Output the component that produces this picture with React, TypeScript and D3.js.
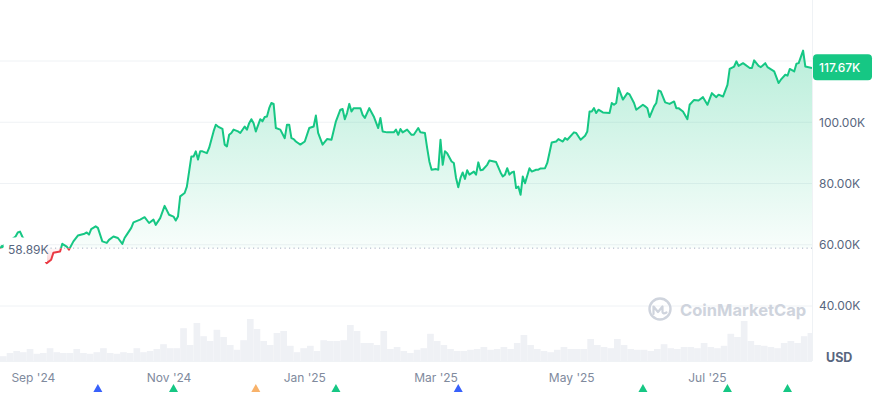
import { useEffect, useRef } from 'react'
import * as d3 from 'd3'

// price in thousands USD
const priceData: [string, number][] = [
  ['2024-08-17', 58.89], ['2024-08-24', 62.7], ['2024-08-25', 64.0], ['2024-08-26', 64.3], ['2024-08-27', 62.7],
  ['2024-08-30', 59.3], ['2024-09-02', 58.2], ['2024-09-05', 56.0], ['2024-09-07', 54.0], ['2024-09-09', 55.1],
  ['2024-09-10', 57.4], ['2024-09-13', 57.8], ['2024-09-14', 60.3], ['2024-09-16', 59.4], ['2024-09-17', 58.4],
  ['2024-09-19', 61.1], ['2024-09-21', 63.0], ['2024-09-24', 63.6], ['2024-09-25', 64.0], ['2024-09-26', 63.3],
  ['2024-09-27', 65.1], ['2024-09-29', 66.0], ['2024-09-30', 65.5], ['2024-10-02', 61.1], ['2024-10-04', 60.6],
  ['2024-10-05', 61.6], ['2024-10-07', 62.7], ['2024-10-09', 62.2], ['2024-10-11', 60.3], ['2024-10-12', 62.2],
  ['2024-10-13', 63.3], ['2024-10-15', 65.5], ['2024-10-16', 67.3], ['2024-10-19', 68.2], ['2024-10-21', 69.0],
  ['2024-10-23', 67.1], ['2024-10-25', 68.2], ['2024-10-26', 66.5], ['2024-10-28', 68.7], ['2024-10-30', 72.7],
  ['2024-11-01', 69.8], ['2024-11-03', 69.2], ['2024-11-04', 67.9], ['2024-11-05', 69.2], ['2024-11-06', 75.8],
  ['2024-11-08', 76.9], ['2024-11-09', 79.0], ['2024-11-11', 88.8], ['2024-11-12', 88.8], ['2024-11-13', 90.5],
  ['2024-11-14', 87.8], ['2024-11-15', 90.5], ['2024-11-16', 90.5], ['2024-11-18', 89.9], ['2024-11-19', 91.6],
  ['2024-11-20', 94.3], ['2024-11-21', 97.0], ['2024-11-22', 99.2], ['2024-11-23', 98.6], ['2024-11-25', 97.8],
  ['2024-11-26', 92.7], ['2024-11-27', 92.1], ['2024-11-28', 95.9], ['2024-11-29', 96.5], ['2024-11-30', 97.6],
  ['2024-12-02', 97.0], ['2024-12-03', 96.5], ['2024-12-05', 98.6], ['2024-12-06', 97.6], ['2024-12-07', 99.7],
  ['2024-12-08', 101.0], ['2024-12-09', 99.7], ['2024-12-10', 97.0], ['2024-12-12', 101.0], ['2024-12-13', 100.3],
  ['2024-12-14', 101.7], ['2024-12-15', 101.9], ['2024-12-16', 104.6], ['2024-12-17', 106.3], ['2024-12-18', 106.0],
  ['2024-12-19', 98.1], ['2024-12-21', 97.6], ['2024-12-23', 94.8], ['2024-12-24', 99.2], ['2024-12-25', 99.2],
  ['2024-12-26', 94.8], ['2024-12-27', 94.5], ['2024-12-28', 93.7], ['2024-12-30', 92.7], ['2025-01-01', 93.7],
  ['2025-01-03', 98.1], ['2025-01-05', 98.6], ['2025-01-06', 102.2], ['2025-01-07', 96.5], ['2025-01-09', 92.7],
  ['2025-01-11', 94.5], ['2025-01-13', 94.3], ['2025-01-15', 100.3], ['2025-01-17', 104.1], ['2025-01-18', 104.3],
  ['2025-01-19', 101.0], ['2025-01-20', 103.0], ['2025-01-21', 106.0], ['2025-01-22', 103.5], ['2025-01-23', 104.6],
  ['2025-01-26', 104.6], ['2025-01-27', 102.4], ['2025-01-28', 101.4], ['2025-01-30', 104.6], ['2025-02-01', 101.9],
  ['2025-02-03', 98.1], ['2025-02-04', 101.4], ['2025-02-05', 97.0], ['2025-02-07', 96.7], ['2025-02-10', 96.7],
  ['2025-02-11', 97.6], ['2025-02-12', 95.9], ['2025-02-13', 97.8], ['2025-02-14', 96.7], ['2025-02-16', 97.6],
  ['2025-02-18', 95.9], ['2025-02-19', 95.9], ['2025-02-21', 98.1], ['2025-02-22', 96.7], ['2025-02-24', 96.5],
  ['2025-02-25', 91.6], ['2025-02-26', 87.2], ['2025-02-27', 84.5], ['2025-03-01', 84.7], ['2025-03-02', 84.5],
  ['2025-03-03', 94.3], ['2025-03-04', 86.1], ['2025-03-05', 90.5], ['2025-03-06', 89.9], ['2025-03-08', 87.2],
  ['2025-03-09', 86.7], ['2025-03-10', 81.8], ['2025-03-11', 78.8], ['2025-03-12', 81.8], ['2025-03-13', 83.6],
  ['2025-03-14', 81.5], ['2025-03-15', 84.3], ['2025-03-16', 82.9], ['2025-03-18', 83.9], ['2025-03-19', 82.9],
  ['2025-03-20', 86.9], ['2025-03-21', 84.3], ['2025-03-22', 84.5], ['2025-03-24', 86.1], ['2025-03-25', 87.5],
  ['2025-03-27', 87.2], ['2025-03-28', 87.0], ['2025-03-30', 83.6], ['2025-03-31', 82.3], ['2025-04-01', 82.9],
  ['2025-04-02', 85.0], ['2025-04-03', 82.9], ['2025-04-04', 83.6], ['2025-04-05', 83.9], ['2025-04-06', 78.5],
  ['2025-04-07', 79.0], ['2025-04-08', 76.3], ['2025-04-09', 82.3], ['2025-04-10', 80.1], ['2025-04-12', 85.0],
  ['2025-04-13', 83.9], ['2025-04-15', 84.5], ['2025-04-16', 84.5], ['2025-04-17', 84.9], ['2025-04-19', 85.0],
  ['2025-04-20', 86.7], ['2025-04-22', 93.4], ['2025-04-24', 93.7], ['2025-04-25', 94.5], ['2025-04-27', 93.7],
  ['2025-04-28', 94.8], ['2025-04-29', 94.3], ['2025-05-02', 96.7], ['2025-05-03', 96.5], ['2025-05-05', 94.3],
  ['2025-05-07', 95.6], ['2025-05-08', 97.0], ['2025-05-09', 103.5], ['2025-05-10', 103.5], ['2025-05-11', 104.6],
  ['2025-05-12', 103.0], ['2025-05-13', 104.1], ['2025-05-15', 103.2], ['2025-05-18', 103.0], ['2025-05-19', 106.3],
  ['2025-05-20', 105.7], ['2025-05-21', 106.3], ['2025-05-22', 111.2], ['2025-05-24', 107.4], ['2025-05-26', 109.5],
  ['2025-05-27', 109.1], ['2025-05-29', 106.3], ['2025-05-30', 104.1], ['2025-06-02', 105.7], ['2025-06-03', 105.2],
  ['2025-06-04', 104.6], ['2025-06-05', 101.7], ['2025-06-07', 105.2], ['2025-06-08', 106.3], ['2025-06-09', 110.4],
  ['2025-06-10', 110.1], ['2025-06-12', 106.5], ['2025-06-14', 106.0], ['2025-06-16', 106.8], ['2025-06-17', 104.6],
  ['2025-06-18', 104.6], ['2025-06-20', 103.5], ['2025-06-22', 101.0], ['2025-06-23', 105.7], ['2025-06-25', 107.3],
  ['2025-06-27', 107.1], ['2025-06-29', 108.2], ['2025-07-01', 105.7], ['2025-07-03', 109.5], ['2025-07-05', 108.2],
  ['2025-07-06', 109.0], ['2025-07-08', 108.4], ['2025-07-10', 112.2], ['2025-07-11', 117.4], ['2025-07-13', 118.2],
  ['2025-07-14', 119.9], ['2025-07-15', 118.4], ['2025-07-17', 119.3], ['2025-07-20', 117.7], ['2025-07-21', 117.7],
  ['2025-07-22', 120.2], ['2025-07-24', 118.4], ['2025-07-25', 118.0], ['2025-07-27', 119.3], ['2025-07-28', 118.0],
  ['2025-07-31', 116.6], ['2025-08-02', 112.8], ['2025-08-03', 113.9], ['2025-08-05', 115.5], ['2025-08-06', 115.2],
  ['2025-08-07', 117.4], ['2025-08-09', 116.6], ['2025-08-10', 119.1], ['2025-08-11', 119.3], ['2025-08-13', 123.4],
  ['2025-08-14', 118.2], ['2025-08-17', 117.67],
]

// volume in billions USD, one value per 3 days starting at volumeStart
const volumeStart = '2024-08-17'
const volumeStepDays = 3
const volumes = [
  12, 20, 25, 22, 30, 18, 20, 32, 22, 20, 20, 30, 20, 18, 22, 32, 20, 18, 22, 20,
  32, 22, 25, 30, 42, 32, 32, 82, 40, 95, 62, 50, 78, 60, 40, 28, 52, 105, 80, 50,
  40, 70, 75, 38, 22, 32, 38, 25, 52, 50, 50, 52, 90, 75, 45, 45, 40, 75, 30, 35,
  25, 20, 28, 32, 68, 50, 40, 30, 25, 25, 28, 30, 35, 28, 30, 35, 30, 45, 65, 40,
  30, 25, 22, 28, 35, 30, 30, 30, 55, 40, 35, 32, 55, 40, 30, 28, 28, 25, 30, 42,
  32, 30, 35, 35, 32, 45, 35, 32, 38, 68, 60, 100, 50, 40, 38, 35, 32, 45, 50, 45,
  62, 70,
]

const domainStart = '2024-08-17'
const domainEnd = '2025-08-17'
const startPrice = 58.89
const lastPrice = 117.67
const gridTicks = [40, 60, 80, 100, 120]
const yLabels = [40, 60, 80, 100]
const xTicks = ['2024-09-01', '2024-11-01', '2025-01-01', '2025-03-01', '2025-05-01', '2025-07-01']
const events: [string, string][] = [
  ['2024-09-30', '#3861fb'], ['2024-11-03', '#16c784'], ['2024-12-10', '#f8b26a'], ['2025-01-15', '#16c784'],
  ['2025-03-11', '#3861fb'], ['2025-06-02', '#16c784'], ['2025-07-10', '#16c784'], ['2025-08-06', '#16c784'],
]

export default function App() {
  const svgRef = useRef<SVGSVGElement>(null)

  useEffect(() => {
    const width = 879
    const height = 393
    const plotRight = 812
    const volBottom = 361
    const green = '#16c784'
    const red = '#ea3943'
    const parse = d3.timeParse('%Y-%m-%d')
    const data = priceData.map(([d, v]) => ({ date: parse(d) as Date, value: v }))

    const svg = d3.select(svgRef.current)
      .attr('width', width)
      .attr('height', height)
      .style('font-family', 'Inter, "Noto Sans", sans-serif')
    svg.selectAll('*').remove()

    const x = d3.scaleTime()
      .domain([parse(domainStart) as Date, parse(domainEnd) as Date])
      .range([0, plotRight])
    const y = d3.scaleLinear().domain([40, 120]).range([306, 61])
    const yVol = d3.scaleLinear().domain([0, 125]).range([volBottom, 311])
    const yBase = y(startPrice)

    const defs = svg.append('defs')
    const gGreen = defs.append('linearGradient').attr('id', 'fillGreen')
      .attr('gradientUnits', 'userSpaceOnUse').attr('x1', 0).attr('x2', 0)
      .attr('y1', y(124)).attr('y2', yBase)
    gGreen.append('stop').attr('offset', 0).attr('stop-color', green).attr('stop-opacity', 0.3)
    gGreen.append('stop').attr('offset', 1).attr('stop-color', green).attr('stop-opacity', 0.03)
    const gRed = defs.append('linearGradient').attr('id', 'fillRed')
      .attr('gradientUnits', 'userSpaceOnUse').attr('x1', 0).attr('x2', 0)
      .attr('y1', yBase).attr('y2', y(54))
    gRed.append('stop').attr('offset', 0).attr('stop-color', red).attr('stop-opacity', 0.03)
    gRed.append('stop').attr('offset', 1).attr('stop-color', red).attr('stop-opacity', 0.25)
    defs.append('clipPath').attr('id', 'above').append('rect')
      .attr('x', 0).attr('y', 0).attr('width', plotRight).attr('height', yBase)
    defs.append('clipPath').attr('id', 'below').append('rect')
      .attr('x', 0).attr('y', yBase).attr('width', plotRight).attr('height', volBottom - yBase)

    // volume
    const vStart = parse(volumeStart) as Date
    svg.append('g').selectAll('rect').data(volumes).join('rect')
      .attr('x', (d, i) => x(d3.timeDay.offset(vStart, i * volumeStepDays)))
      .attr('width', (d, i) => Math.min(plotRight, x(d3.timeDay.offset(vStart, (i + 1) * volumeStepDays))) - x(d3.timeDay.offset(vStart, i * volumeStepDays)))
      .attr('y', d => yVol(d))
      .attr('height', d => volBottom - yVol(d))
      .attr('fill', '#eff1f5')

    // grid
    svg.append('g').selectAll('line').data(gridTicks).join('line')
      .attr('x1', 0).attr('x2', plotRight)
      .attr('y1', d => y(d)).attr('y2', d => y(d))
      .attr('stroke', '#eff2f5')
    svg.append('line').attr('x1', plotRight + 0.5).attr('x2', plotRight + 0.5)
      .attr('y1', 0).attr('y2', volBottom).attr('stroke', '#eff2f5')
    svg.append('line').attr('x1', 0).attr('x2', plotRight)
      .attr('y1', volBottom + 0.5).attr('y2', volBottom + 0.5).attr('stroke', '#eff2f5')

    // watermark
    const wm = svg.append('g').attr('opacity', 0.85)
    wm.append('circle').attr('cx', 660).attr('cy', 309).attr('r', 10.5)
      .attr('fill', 'none').attr('stroke', '#c7cdd8').attr('stroke-width', 2.4)
    wm.append('path').attr('d', 'M653.5 314 V306.5 L658 312 L662.5 306.5 V312 Q663 314.5 666.5 312.5')
      .attr('fill', 'none').attr('stroke', '#c7cdd8').attr('stroke-width', 2.2)
      .attr('stroke-linejoin', 'round').attr('stroke-linecap', 'round')
    wm.append('text').attr('x', 680).attr('y', 315.5).attr('font-size', 16.5).attr('font-weight', 700)
      .attr('fill', '#c7cdd8').text('CoinMarketCap')

    // area + line
    const area = d3.area<{ date: Date, value: number }>()
      .x(d => x(d.date)).y0(yBase).y1(d => y(d.value))
    const line = d3.line<{ date: Date, value: number }>()
      .x(d => x(d.date)).y(d => y(d.value))
    svg.append('path').datum(data).attr('d', area).attr('fill', 'url(#fillGreen)').attr('clip-path', 'url(#above)')
    svg.append('path').datum(data).attr('d', area).attr('fill', 'url(#fillRed)').attr('clip-path', 'url(#below)')
    svg.append('path').datum(data).attr('d', line).attr('fill', 'none').attr('stroke', green)
      .attr('stroke-width', 2).attr('stroke-linejoin', 'round').attr('clip-path', 'url(#above)')
    svg.append('path').datum(data).attr('d', line).attr('fill', 'none').attr('stroke', red)
      .attr('stroke-width', 2).attr('stroke-linejoin', 'round').attr('clip-path', 'url(#below)')

    // baseline
    svg.append('line').attr('x1', 46).attr('x2', plotRight)
      .attr('y1', yBase).attr('y2', yBase)
      .attr('stroke', '#a6b0c3').attr('stroke-dasharray', '1.2,3.3')

    // start label
    svg.append('rect').attr('x', 3.5).attr('y', 237.5).attr('width', 43.5).attr('height', 24.5).attr('fill', '#fff')
    svg.append('circle').attr('cx', x(data[0].date) + 2).attr('cy', yBase - 1.5).attr('r', 1.6).attr('fill', green)
    svg.append('text').attr('x', 8).attr('y', yBase + 5.8).attr('font-size', 12).attr('fill', '#58667e')
      .text(d3.format('.2f')(startPrice) + 'K')

    // y axis labels
    svg.append('g').selectAll('text').data(yLabels).join('text')
      .attr('x', 819).attr('y', d => y(d) + 4.3)
      .attr('font-size', 12).attr('fill', '#58667e')
      .text(d => d3.format('.2f')(d) + 'K')
    svg.append('text').attr('x', 826).attr('y', 361.5).attr('font-size', 12.5).attr('font-weight', 700)
      .attr('fill', '#58667e').text('USD')

    // last price tag
    svg.append('rect').attr('x', 813).attr('y', y(lastPrice) - 14).attr('width', 59).attr('height', 26)
      .attr('rx', 4).attr('fill', green)
    svg.append('text').attr('x', 819).attr('y', y(lastPrice) + 4)
      .attr('font-size', 12).attr('font-weight', 500).attr('fill', '#fff')
      .text(d3.format('.2f')(lastPrice) + 'K')

    // x axis labels
    const fmt = d3.timeFormat("%b '%y")
    svg.append('g').selectAll('text').data(xTicks).join('text')
      .attr('x', d => x(parse(d) as Date)).attr('y', 381.5)
      .attr('text-anchor', 'middle').attr('font-size', 12).attr('fill', '#808a9d')
      .text(d => fmt(parse(d) as Date))

    // event markers
    svg.append('g').selectAll('path').data(events).join('path')
      .attr('d', d => {
        const cx = x(parse(d[0]) as Date)
        return `M${cx},384 L${cx + 4.5},392 L${cx - 4.5},392 Z`
      })
      .attr('fill', d => d[1])
  }, [])

  return <svg ref={svgRef} style={{ position: 'absolute', left: 0, top: 0 }} />
}
